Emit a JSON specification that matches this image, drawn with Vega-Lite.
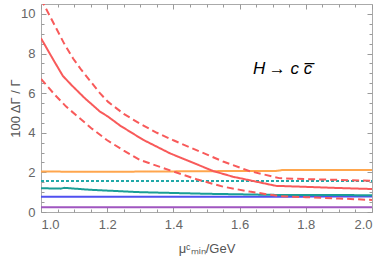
{
  "$schema": "https://vega.github.io/schema/vega-lite/v6.json",
  "width": 331,
  "height": 208,
  "autosize": {"type": "none"},
  "padding": {"left": 41, "top": 4, "right": 9, "bottom": 45},
  "background": "white",
  "config": {
    "view": {"stroke": "#aaaaaa", "strokeWidth": 1},
    "axis": {
      "domain": false,
      "grid": false,
      "tickColor": "#9a9a9a",
      "labelColor": "#666666",
      "labelFont": "Liberation Sans",
      "labelFontSize": 13,
      "titleFont": "Liberation Sans",
      "titleFontSize": 13,
      "titleColor": "#555555",
      "titleFontWeight": "normal"
    }
  },
  "datasets": {
    "lines": [
      {"series": "purple", "x": 1.0, "y": 0.24},
      {"series": "purple", "x": 2.0, "y": 0.24},
      {"series": "blue", "x": 1.0, "y": 0.77},
      {"series": "blue", "x": 1.5, "y": 0.77},
      {"series": "blue", "x": 2.0, "y": 0.78},
      {"series": "teal", "x": 1.0, "y": 1.2},
      {"series": "teal", "x": 1.06, "y": 1.18},
      {"series": "teal", "x": 1.07, "y": 1.22},
      {"series": "teal", "x": 1.15, "y": 1.12},
      {"series": "teal", "x": 1.3, "y": 1.0},
      {"series": "teal", "x": 1.5, "y": 0.92},
      {"series": "teal", "x": 1.72, "y": 0.86},
      {"series": "teal", "x": 2.0, "y": 0.85},
      {"series": "tealdot", "x": 1.0, "y": 1.57},
      {"series": "tealdot", "x": 2.0, "y": 1.57},
      {"series": "orange", "x": 1.0, "y": 2.05},
      {"series": "orange", "x": 1.1, "y": 2.03},
      {"series": "orange", "x": 1.2, "y": 2.03},
      {"series": "orange", "x": 1.4, "y": 2.05},
      {"series": "orange", "x": 1.6, "y": 2.07},
      {"series": "orange", "x": 1.71, "y": 2.07},
      {"series": "orange", "x": 1.73, "y": 2.12},
      {"series": "orange", "x": 2.0, "y": 2.12},
      {"series": "redlow", "x": 1.0, "y": 6.72},
      {"series": "redlow", "x": 1.04, "y": 5.95},
      {"series": "redlow", "x": 1.076, "y": 5.32},
      {"series": "redlow", "x": 1.152, "y": 4.23},
      {"series": "redlow", "x": 1.2, "y": 3.62},
      {"series": "redlow", "x": 1.25, "y": 3.1},
      {"series": "redlow", "x": 1.3, "y": 2.62},
      {"series": "redlow", "x": 1.39, "y": 2.1},
      {"series": "redlow", "x": 1.47, "y": 1.65},
      {"series": "redlow", "x": 1.55, "y": 1.28},
      {"series": "redlow", "x": 1.63, "y": 1.03},
      {"series": "redlow", "x": 1.72, "y": 0.8},
      {"series": "redlow", "x": 1.8, "y": 0.75},
      {"series": "redlow", "x": 1.9, "y": 0.68},
      {"series": "redlow", "x": 2.0, "y": 0.61},
      {"series": "redhigh", "x": 1.0, "y": 10.75},
      {"series": "redhigh", "x": 1.07, "y": 8.5},
      {"series": "redhigh", "x": 1.097, "y": 7.75},
      {"series": "redhigh", "x": 1.122, "y": 7.17},
      {"series": "redhigh", "x": 1.178, "y": 6.0},
      {"series": "redhigh", "x": 1.202, "y": 5.57},
      {"series": "redhigh", "x": 1.25, "y": 4.95},
      {"series": "redhigh", "x": 1.3, "y": 4.45},
      {"series": "redhigh", "x": 1.35, "y": 4.0},
      {"series": "redhigh", "x": 1.4, "y": 3.62},
      {"series": "redhigh", "x": 1.48, "y": 3.05},
      {"series": "redhigh", "x": 1.55, "y": 2.55},
      {"series": "redhigh", "x": 1.631, "y": 2.06},
      {"series": "redhigh", "x": 1.72, "y": 1.71},
      {"series": "redhigh", "x": 1.8, "y": 1.66},
      {"series": "redhigh", "x": 1.9, "y": 1.62},
      {"series": "redhigh", "x": 2.0, "y": 1.58},
      {"series": "redmid", "x": 1.0, "y": 8.77},
      {"series": "redmid", "x": 1.036, "y": 7.72},
      {"series": "redmid", "x": 1.066, "y": 6.87},
      {"series": "redmid", "x": 1.092, "y": 6.41},
      {"series": "redmid", "x": 1.132, "y": 5.75},
      {"series": "redmid", "x": 1.178, "y": 5.07},
      {"series": "redmid", "x": 1.202, "y": 4.82},
      {"series": "redmid", "x": 1.24, "y": 4.35},
      {"series": "redmid", "x": 1.309, "y": 3.64},
      {"series": "redmid", "x": 1.39, "y": 2.96},
      {"series": "redmid", "x": 1.45, "y": 2.55},
      {"series": "redmid", "x": 1.52, "y": 2.07},
      {"series": "redmid", "x": 1.58, "y": 1.78},
      {"series": "redmid", "x": 1.631, "y": 1.6},
      {"series": "redmid", "x": 1.71, "y": 1.32},
      {"series": "redmid", "x": 1.8, "y": 1.27},
      {"series": "redmid", "x": 1.9, "y": 1.21},
      {"series": "redmid", "x": 2.0, "y": 1.16}
    ],
    "ann": [
      {"x": 1.6405, "y": 6.97, "label": "H\u2009→ c c\u0305"}
    ]
  },
  "layer": [
    {
      "data": {"name": "lines"},
      "mark": {"type": "line", "clip": true, "strokeWidth": 2},
      "encoding": {
        "x": {"field": "x", "type": "quantitative",
          "scale": {"domain": [1, 2], "nice": false, "zero": false},
          "axis": {"orient": "bottom", "values": [1, 1.2, 1.4, 1.6, 1.8, 2], "format": ".1f", "tickSize": -5, "labelPadding": 11, "title": "μᶜₘᵢₙ/GeV", "titlePadding": 11}},
        "y": {"field": "y", "type": "quantitative",
          "scale": {"domain": [0, 10.5], "nice": false},
          "axis": {"orient": "left", "values": [0, 2, 4, 6, 8, 10], "format": "d", "tickSize": -5, "labelPadding": 11, "title": "100 ΔΓ / Γ", "titlePadding": -2}},
        "color": {"field": "series", "type": "nominal", "legend": null,
          "scale": {"domain": ["purple", "blue", "teal", "tealdot", "orange", "redlow", "redhigh", "redmid"],
                    "range": ["#a056c0", "#5050f0", "#1a9e96", "#20a8a8", "#ffa64d", "#f85a5a", "#f85a5a", "#f85a5a"]}},
        "strokeDash": {"field": "series", "type": "nominal", "legend": null,
          "scale": {"domain": ["purple", "blue", "teal", "tealdot", "orange", "redlow", "redhigh", "redmid"],
                    "range": [[1, 0], [1, 0], [1, 0], [3, 2], [1, 0], [7, 4], [7, 4], [1, 0]]}}
      }
    },
    {
      "data": {"name": "ann"},
      "mark": {"type": "point", "opacity": 0},
      "encoding": {
        "x": {"field": "x", "type": "quantitative",
          "scale": {"domain": [1, 2], "nice": false, "zero": false},
          "axis": {"orient": "bottom", "values": [1.05, 1.1, 1.15, 1.25, 1.3, 1.35, 1.45, 1.5, 1.55, 1.65, 1.7, 1.75, 1.85, 1.9, 1.95], "tickSize": -3, "labels": false, "title": null}},
        "y": {"field": "y", "type": "quantitative",
          "scale": {"domain": [0, 10.5], "nice": false},
          "axis": {"orient": "left", "values": [0.5, 1, 1.5, 2.5, 3, 3.5, 4.5, 5, 5.5, 6.5, 7, 7.5, 8.5, 9, 9.5], "tickSize": -3, "labels": false, "title": null}}
      }
    },
    {
      "data": {"name": "ann"},
      "mark": {"type": "point", "opacity": 0},
      "encoding": {
        "x": {"field": "x", "type": "quantitative",
          "scale": {"domain": [1, 2], "nice": false, "zero": false},
          "axis": {"orient": "top", "values": [1, 1.2, 1.4, 1.6, 1.8, 2], "tickSize": -5, "labels": false, "title": null}},
        "y": {"field": "y", "type": "quantitative",
          "scale": {"domain": [0, 10.5], "nice": false},
          "axis": {"orient": "right", "values": [0, 2, 4, 6, 8, 10], "tickSize": -5, "labels": false, "title": null}}
      }
    },
    {
      "data": {"name": "ann"},
      "mark": {"type": "point", "opacity": 0},
      "encoding": {
        "x": {"field": "x", "type": "quantitative",
          "scale": {"domain": [1, 2], "nice": false, "zero": false},
          "axis": {"orient": "top", "values": [1.05, 1.1, 1.15, 1.25, 1.3, 1.35, 1.45, 1.5, 1.55, 1.65, 1.7, 1.75, 1.85, 1.9, 1.95], "tickSize": -3, "labels": false, "title": null}},
        "y": {"field": "y", "type": "quantitative",
          "scale": {"domain": [0, 10.5], "nice": false},
          "axis": {"orient": "right", "values": [0.5, 1, 1.5, 2.5, 3, 3.5, 4.5, 5, 5.5, 6.5, 7, 7.5, 8.5, 9, 9.5], "tickSize": -3, "labels": false, "title": null}}
      }
    },
    {
      "data": {"name": "ann"},
      "mark": {"type": "text", "align": "left", "baseline": "alphabetic", "font": "Liberation Sans", "fontStyle": "italic", "fontSize": 17, "color": "#000000"},
      "encoding": {
        "x": {"field": "x", "type": "quantitative", "scale": {"domain": [1, 2], "nice": false, "zero": false}, "axis": null},
        "y": {"field": "y", "type": "quantitative", "scale": {"domain": [0, 10.5], "nice": false}, "axis": null},
        "text": {"field": "label"}
      }
    }
  ],
  "resolve": {"axis": {"x": "independent", "y": "independent"}}
}
